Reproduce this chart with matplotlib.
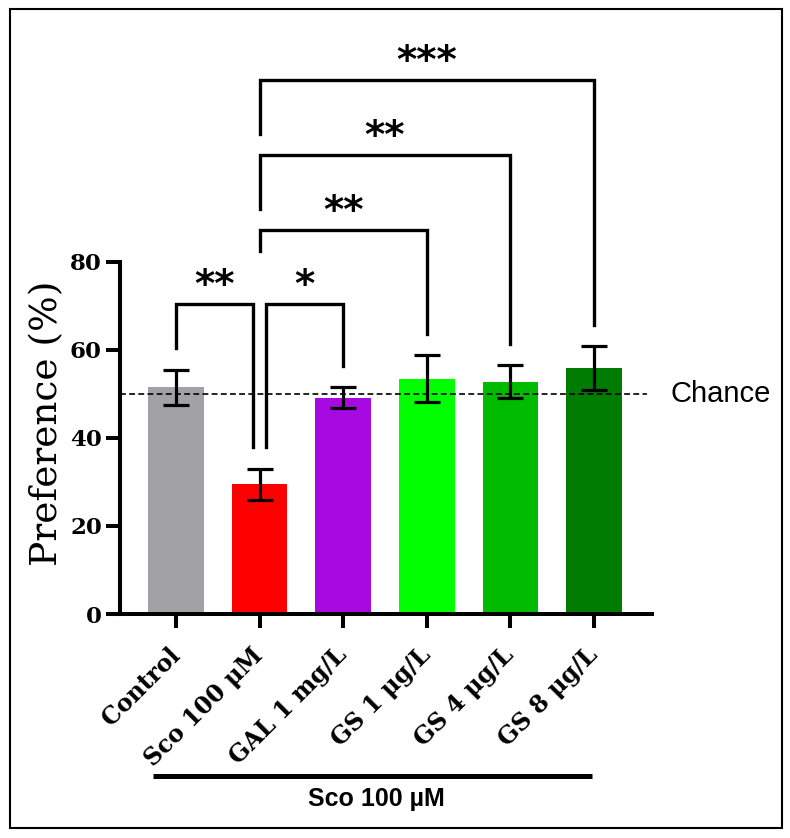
import matplotlib
matplotlib.use("Agg")
import matplotlib.pyplot as plt
from matplotlib.lines import Line2D
from matplotlib.patches import Rectangle
import matplotlib.transforms as mtransforms

# ---- data ----
categories = ["Control", "Sco 100 \u03bcM", "GAL 1 mg/L", "GS 1 \u03bcg/L", "GS 4 \u03bcg/L", "GS 8 \u03bcg/L"]
means = [51.5, 29.5, 49.2, 53.5, 52.8, 55.9]
sems = [4.0, 3.5, 2.35, 5.3, 3.8, 4.9]
colors = ["#a2a1a6", "#ff0000", "#a70ae0", "#00ff00", "#00bb00", "#007c00"]
chance_level = 50
yticks = [0, 20, 40, 60, 80]

# significance brackets: (left idx, right idx, bar y, left-leg bottom, right-leg bottom, label, left offset, right offset)
brackets = [
    (0, 1, 70.5, 60.4, 38.0, "**", 0.0, -0.08),
    (1, 2, 70.5, 38.0, 56.3, "*", 0.08, 0.0),
    (1, 3, 87.3, 82.6, 63.6, "**", 0.0, 0.0),
    (1, 4, 104.4, 92.1, 61.4, "**", 0.0, 0.0),
    (1, 5, 121.4, 109.1, 65.6, "***", 0.0, 0.0),
]

W, H = 790, 838
fig = plt.figure(figsize=(W / 100, H / 100), dpi=100)
ax = fig.add_axes([120 / W, 1 - 614 / H, (652 - 120) / W, (614 - 262) / H])

x = list(range(len(categories)))
ax.bar(x, means, width=0.665, color=colors, zorder=2)
ax.errorbar(x, means, yerr=sems, fmt="none", ecolor="black", elinewidth=2.3,
            capsize=9.5, capthick=2.3, zorder=4)

ax.set_xlim(-0.67, 5.694)
ax.set_ylim(0, 80)
ax.set_yticks(yticks)
ax.set_xticks(x)

serif = "DejaVu Serif"
ax.set_yticklabels([str(v) for v in yticks], fontfamily=serif, fontweight="bold", fontsize=16.5)
ax.set_xticklabels(categories, fontfamily=serif, fontweight="bold", fontsize=17,
                   rotation=45, ha="right", va="center", rotation_mode="anchor")
ax.tick_params(axis="both", length=10, width=2.9, direction="out", colors="black")
ax.tick_params(axis="x", pad=17)
ax.tick_params(axis="y", pad=3)

for side in ["top", "right"]:
    ax.spines[side].set_visible(False)
for side in ["left", "bottom"]:
    ax.spines[side].set_linewidth(2.9)

ax.set_ylabel("Preference (%)", fontfamily=serif, fontsize=27)
ax.yaxis.set_label_coords(-0.104, 0.541)

# chance line
ax.plot([-0.67, 5.63], [chance_level, chance_level], ls=(0, (3.5, 2)), color="black",
        lw=1.2, zorder=3, clip_on=False)
ax.text(5.91, chance_level, "Chance", fontfamily="Liberation Sans", fontsize=21,
        ha="left", va="center")

# brackets
for (i, j, yb, yl, yr, lab, dl, dr) in brackets:
    xl, xr = i + dl, j + dr
    ax.add_line(Line2D([xl, xl, xr, xr], [yl, yb, yb, yr], color="black", lw=2.4,
                       clip_on=False, solid_joinstyle="miter", zorder=5))
    ax.text((xl + xr) / 2, yb - 0.2, lab, fontfamily="DejaVu Sans", fontweight="bold",
            fontsize=28, ha="center", va="bottom", clip_on=False)

# group line under labels
trans = mtransforms.blended_transform_factory(ax.transData, fig.transFigure)
fig.add_artist(Line2D([-0.275, 4.976], [1 - 776 / H, 1 - 776 / H], transform=trans,
                      color="black", lw=3.6, solid_capstyle="butt"))
fig.text(376 / W, 1 - 799 / H, "Sco 100 \u00b5M", fontfamily="Liberation Sans",
         fontweight="bold", fontsize=18, ha="center", va="center")

# frame
fig.add_artist(Rectangle((9.5 / W, 1 - 828 / H), (782 - 9.5) / W, (828 - 9) / H,
                         transform=fig.transFigure, fill=False, ec="black", lw=1.5))

fig.savefig("out.png", dpi=100)
